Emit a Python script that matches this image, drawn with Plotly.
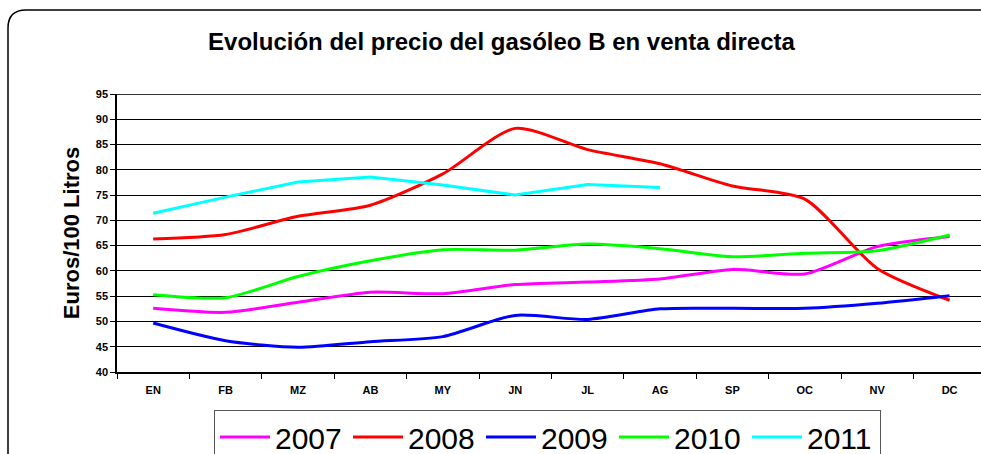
import plotly.graph_objects as go

# Monthly direct-sale price of gasóleo B (euros per 100 litres)
months = ["EN", "FB", "MZ", "AB", "MY", "JN", "JL", "AG", "SP", "OC", "NV", "DC"]
p2007 = [52.6, 51.8, 53.8, 55.8, 55.5, 57.3, 57.8, 58.4, 60.3, 59.4, 64.8, 66.8]
p2008 = [66.3, 67.2, 70.8, 73.0, 79.2, 88.2, 84.0, 81.2, 76.8, 74.2, 60.5, 54.2]
p2009 = [49.7, 46.2, 44.9, 46.0, 47.0, 51.2, 50.4, 52.5, 52.6, 52.6, 53.6, 55.1]
p2010 = [55.3, 54.7, 58.9, 62.0, 64.2, 64.1, 65.3, 64.4, 62.8, 63.5, 64.0, 67.1]
p2011 = [71.4, 74.6, 77.6, 78.6, 77.0, 75.0, 77.1, 76.5]

series = [
    ("2007", p2007, "#FF00FF", "spline"),
    ("2008", p2008, "#FF0000", "spline"),
    ("2009", p2009, "#0000FF", "spline"),
    ("2010", p2010, "#00FF00", "spline"),
    ("2011", p2011, "#00FFFF", "linear"),
]

W, H = 981, 454
L, R, T, B = 117, 0, 94, 82
PW, PH = W - L - R, H - T - B
SLOT = 72.4  # px per month category


def px(x):
    return (x - L) / PW


def py(y):
    return (H - B - y) / PH


fig = go.Figure()
for name, vals, color, shape in series:
    line = dict(color=color, width=3, shape=shape)
    if shape == "spline":
        line["smoothing"] = 0.7
    fig.add_trace(go.Scatter(
        x=months[:len(vals)], y=vals, name=name, mode="lines", line=line,
    ))

font = "Liberation Sans, Arial, sans-serif"

fig.update_layout(
    width=W, height=H,
    margin=dict(l=L, r=R, t=T, b=B, pad=0, autoexpand=False),
    paper_bgcolor="white", plot_bgcolor="white",
    font=dict(family=font, color="black"),
    title=dict(
        text="<b>Evolución del precio del gasóleo B en venta directa</b>",
        font=dict(size=24, family=font, color="black"),
        x=501.5 / W, xanchor="center", xref="container",
        y=1 - 41.5 / H, yanchor="middle", yref="container",
    ),
    xaxis=dict(
        type="category", categoryorder="array", categoryarray=months,
        range=[-0.5, -0.5 + PW / SLOT],
        showgrid=False, zeroline=False,
        showline=True, linecolor="black", linewidth=1.5,
        ticks="outside", tickson="boundaries", ticklen=5, tickcolor="black", tickwidth=1,
        tickfont=dict(size=11, family=font, color="black", weight="bold"),
        ticklabelstandoff=7,
    ),
    yaxis=dict(
        range=[40, 95], tick0=40, dtick=5,
        showgrid=True, gridcolor="black", gridwidth=1, zeroline=False,
        showline=True, linecolor="black", linewidth=1.5,
        ticks="outside", ticklen=5, tickcolor="black", tickwidth=1,
        tickfont=dict(size=11, family=font, color="black", weight="bold"),
        title=dict(text="<b>Euros/100 Litros</b>", font=dict(size=22, family=font, color="black"),
                   standoff=10),
    ),
    legend=dict(
        orientation="h",
        x=px(214), xanchor="left", y=py(410), yanchor="top",
        bordercolor="#555555", borderwidth=1, bgcolor="white",
        font=dict(size=30, family=font, color="black"),
        itemwidth=50, entrywidth=68, entrywidthmode="pixels",
        traceorder="normal",
    ),
    showlegend=True,
)

# darker top edge of the plotting area
fig.add_shape(type="line", xref="paper", yref="y", x0=0, x1=1, y0=95, y1=95,
              line=dict(color="#333333", width=2), layer="above")

# rounded outer frame of the chart
r = 18
x_left, y_top = 8, 10
path = (f"M {px(x_left)},{py(470)} L {px(x_left)},{py(y_top + r)} "
        f"Q {px(x_left)},{py(y_top)} {px(x_left + r)},{py(y_top)} "
        f"L {px(1000)},{py(y_top)}")
fig.add_shape(type="path", xref="paper", yref="paper", path=path,
              line=dict(color="black", width=1.5), layer="above")

fig.write_html("out.html")
